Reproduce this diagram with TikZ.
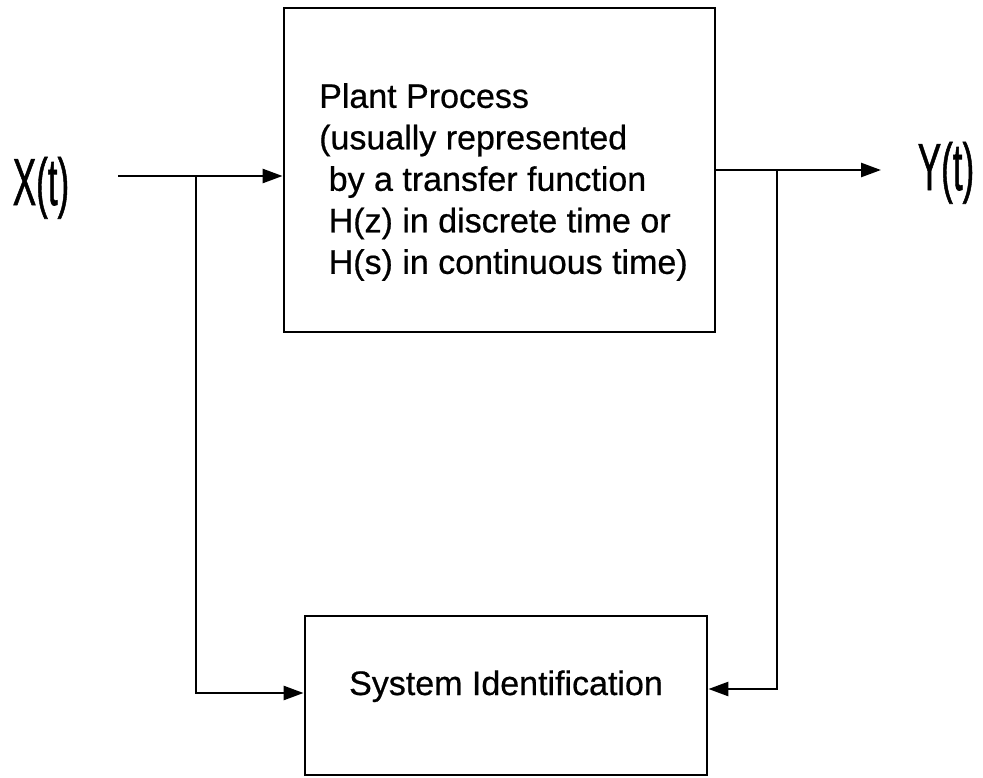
\documentclass[tikz,border=0pt]{standalone}
\usepackage{fontspec}
\setmainfont{Liberation Sans}
\newfontfamily\labelfont{Liberation Sans}[FakeBold=0.6]
\newfontfamily\signalfont{Liberation Sans}[FakeBold=1.2]
\usetikzlibrary{arrows.meta,calc}
\begin{document}
\begin{tikzpicture}[x=1pt,y=-1pt,
  blk/.style={draw, line width=2.8pt, inner sep=0pt},
  wire/.style={line width=2.6pt},
  arr/.style={wire, -{Triangle[length=20pt,width=14pt]}},
  txt/.style={font=\labelfont\fontsize{34}{41.5}\selectfont, inner sep=0pt},
  sig/.style={font=\signalfont\fontsize{34}{40}\selectfont, inner sep=0pt}]
  \useasboundingbox (0,0) rectangle (983,777);

  % blocks
  \node[blk, minimum width=431pt, minimum height=324pt] (plant) at (499.5,170) {};
  \node[blk, minimum width=402pt, minimum height=159pt] (sysid) at (506,695.5) {};

  % block texts
  \node[txt, anchor=north west, align=left] (plantlabel) at (319,83)
    {Plant Process\\(usually represented\\\hspace*{0.28em}by a transfer function\\\hspace*{0.28em}H(z) in discrete time or\\\hspace*{0.28em}H(s) in continuous time)};
  \node[txt, anchor=base] (sysidlabel) at (506,695) {System Identification};

  % signal labels
  \node[sig, anchor=base] (xlab) at (41,205) {\scalebox{1.03}[1.95]{X(t)}};
  \node[sig, anchor=base] (ylab) at (946,190) {\scalebox{1.03}[1.95]{Y(t)}};

  % connector points
  \coordinate (xin) at (118,176);
  \coordinate (xsplit) at (196,176);
  \coordinate (ysplit) at (777,170);
  \coordinate (yout) at (881,170);

  % input path and branch to identification
  \draw[arr] (xin) -- (xin -| plant.west);
  \draw[arr] (xsplit) |- ($(sysid.west)+(0,-2.5)$);

  % output path and branch to identification
  \draw[arr] (plant.east) -- (yout);
  \draw[arr] (ysplit) |- ($(sysid.east)+(0,-6.5)$);
\end{tikzpicture}
\end{document}
